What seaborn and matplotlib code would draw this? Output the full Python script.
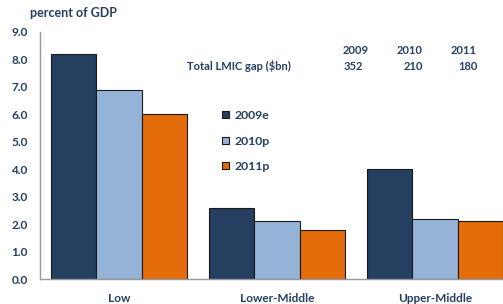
import matplotlib
matplotlib.use("Agg")
import matplotlib.pyplot as plt
import seaborn as sns
import pandas as pd
from matplotlib.ticker import FixedLocator, FormatStrFormatter

categories = ["Low", "Lower-Middle", "Upper-Middle"]
series = ["2009e", "2010p", "2011p"]
values_2009 = [8.2, 2.6, 4.0]
values_2010 = [6.9, 2.1, 2.2]
values_2011 = [6.0, 1.8, 2.1]
gap_years = ["2009", "2010", "2011"]
gap_values = ["352", "210", "180"]
yticks = [0, 1, 2, 3, 4, 5, 6, 7, 8, 9]

colors = ["#243F60", "#95B3D7", "#E46C0A"]
txt = "#243F60"

rows = []
for s, vals in zip(series, [values_2009, values_2010, values_2011]):
    for c, v in zip(categories, vals):
        rows.append({"cat": c, "series": s, "val": v})
df = pd.DataFrame(rows)

sns.set_theme(style="white")
plt.rcParams['font.family'] = ['Lato', 'DejaVu Sans']
plt.rcParams['font.weight'] = 'bold'

fig = plt.figure(figsize=(5.03, 3.04), dpi=100)
ax = fig.add_axes([40/503, 25/304, 474/503, 247/304])

sns.barplot(data=df, x="cat", y="val", hue="series", order=categories,
            hue_order=series, palette=colors, width=0.86, gap=0, saturation=1,
            edgecolor="#1a1a1a", linewidth=0.8, ax=ax, legend=True)

ax.set_xlim(-0.5, 2.5)
ax.set_ylim(0, 9)
ax.set_xlabel("")
ax.set_ylabel("")
ax.yaxis.set_major_locator(FixedLocator(yticks))
ax.yaxis.set_major_formatter(FormatStrFormatter("%.1f"))
ax.tick_params(axis="y", length=0, pad=9, labelsize=8.5, labelcolor=txt)
ax.tick_params(axis="x", which="major", length=0, pad=10, labelsize=8.5, labelcolor=txt)
ax.xaxis.set_minor_locator(FixedLocator([-0.5, 0.5, 1.5, 2.5]))
ax.tick_params(axis="x", which="minor", length=5, width=0.8, color="#999999", direction="out")
for lbl in ax.get_xticklabels() + ax.get_yticklabels():
    lbl.set_fontweight("bold")

for side in ["top", "right"]:
    ax.spines[side].set_visible(False)
for side in ["left", "bottom"]:
    ax.spines[side].set_color("#999999")
    ax.spines[side].set_linewidth(1.0)

leg = ax.legend(loc="upper left", bbox_to_anchor=(216/503, 1 - 104/304),
                bbox_transform=fig.transFigure, frameon=False,
                fontsize=8.8, handlelength=0.55, handleheight=0.55,
                handletextpad=0.45, labelspacing=1.18, borderpad=0)
for t in leg.get_texts():
    t.set_color(txt)
    t.set_fontweight("bold")

fig.text(30/503, 1 - 13/304, "percent of GDP", color=txt, fontsize=9,
         fontweight="bold", ha="left", va="center")
fig.text(291/503, 1 - 66/304, "Total LMIC gap ($bn)", color=txt, fontsize=8,
         fontweight="bold", ha="right", va="center")
year_right = [369, 423, 477]
val_right = [363, 423, 478]
for y, v, xr, xv in zip(gap_years, gap_values, year_right, val_right):
    fig.text(xr/503, 1 - 51/304, y, color=txt, fontsize=8, fontweight="bold",
             ha="right", va="center")
    fig.text(xv/503, 1 - 66/304, v, color=txt, fontsize=8, fontweight="bold",
             ha="right", va="center")

fig.savefig("out.png", dpi=100)
